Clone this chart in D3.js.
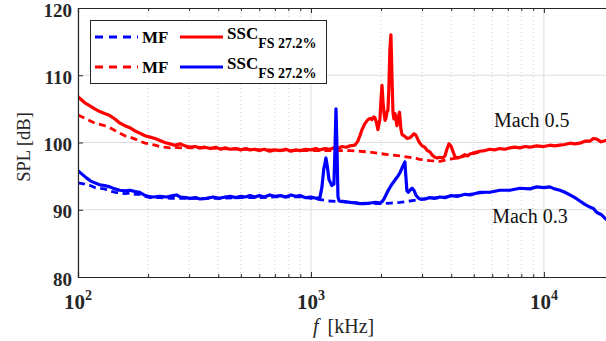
<!DOCTYPE html>
<html>
<head>
<meta charset="utf-8">
<script src="https://cdn.jsdelivr.net/npm/d3@7"></script>
<style>
  html, body { margin: 0; padding: 0; background: #fff; }
  svg { display: block; }
  text { font-family: "Liberation Serif", "Times New Roman", serif; }
</style>
</head>
<body>
<svg id="chart" width="606" height="341"></svg>
<script>
// Spectra: [frequency, SPL dB]
const mfM03 = [
  [100,94.0],[107,93.8],[113,93.6],[118,93.3],[124,93.2],[130,93.1],[137,92.8],[144,92.6],
  [151,92.5],[159,92.4],[167,92.5],[176,92.3],[184,92.3],[194,92.0],[204,91.8],[225,91.8],
  [250,91.7],[300,91.7],[400,91.7],[500,91.8],[600,91.8],[700,91.9],[800,91.9],[900,91.9],
  [1000,91.7],[1093,91.5],[1206,91.3],[1332,91.2],[1471,91.1],[1623,91.0],[1800,90.9],
  [2000,90.9],[2200,91.0],[2410,91.1],[2660,91.3],[2936,91.5],[3241,91.7],[3578,91.8],
  [4000,92.0],[4581,92.2],[5313,92.5],[5864,92.6]
];
const sscM03 = [
  [100,95.8],[104,95.3],[109,94.7],[113,94.3],[118,94.0],[124,93.7],[130,93.6],[137,93.4],
  [144,93.1],[151,92.9],[159,92.8],[167,92.9],[176,92.7],[184,92.6],[192,92.2],[200,92.0],
  [210,91.9],[225,92.0],[240,91.9],[255,92.1],[265,92.2],[274,91.9],[290,91.8],[302,91.7],
  [320,91.8],[334,91.6],[355,91.7],[380,91.9],[405,91.7],[428,91.9],[450,92.0],[475,91.8],
  [500,92.0],[525,91.9],[547,92.1],[575,91.9],[600,92.1],[630,91.9],[665,92.2],[700,92.0],
  [740,92.1],[780,91.9],[820,92.2],[860,92.0],[897,92.1],[950,91.8],[1000,91.9],[1050,91.7],
  [1093,91.8],[1115,93.4],[1135,96.0],[1160,97.7],[1175,96.5],[1195,94.5],[1230,93.6],
  [1255,93.8],[1268,99.0],[1281,105.0],[1294,99.0],[1306,92.0],[1320,91.3],[1332,91.3],
  [1399,91.2],[1471,91.1],[1545,91.0],[1623,90.9],[1705,90.9],[1800,91.0],[1900,91.1],
  [1978,91.0],[2018,91.2],[2058,91.6],[2099,92.2],[2141,92.8],[2183,93.3],[2227,93.8],
  [2271,94.2],[2316,94.6],[2362,95.0],[2410,95.5],[2460,96.2],[2500,96.7],[2532,97.1],
  [2555,95.0],[2582,92.8],[2620,92.6],[2660,92.9],[2720,93.2],[2768,92.9],[2822,92.2],
  [2880,91.8],[2936,91.6],[3085,91.6],[3241,91.8],[3406,91.7],[3578,91.9],[3760,91.8],
  [3990,92.1],[4276,92.0],[4581,92.3],[4813,92.2],[5313,92.6],[5864,92.6],[6474,92.9],
  [7147,92.9],[7889,93.2],[8709,93.1],[9300,93.4],[10000,93.3],[10612,93.4],[11100,93.1],
  [11716,92.9],[12300,92.6],[12931,92.2],[13588,91.8],[14272,91.3],[15000,90.8],
  [15754,90.4],[16300,90.2],[16885,89.6],[17600,89.3],[18458,88.6],[20000,88.0]
];
const mfM05 = [
  [100,104.1],[107,103.6],[113,103.2],[118,102.9],[124,102.7],[130,102.5],[137,102.2],
  [144,101.8],[151,101.4],[159,101.0],[167,100.8],[176,100.5],[184,100.2],[194,99.9],
  [204,99.8],[214,99.6],[225,99.4],[236,99.3],[248,99.2],[260,99.3],[274,99.2],[288,99.3],
  [302,99.2],[350,99.2],[410,99.1],[500,99.0],[600,98.9],[700,98.9],[800,98.8],[897,98.8],
  [1000,98.8],[1093,98.8],[1206,98.8],[1332,98.8],[1471,98.8],[1623,98.7],[1756,98.6],
  [1939,98.4],[2141,98.2],[2410,98.0],[2660,97.8],[2936,97.5],[3241,97.3],[3578,97.2],
  [3912,97.5],[4276,97.7],[4581,98.0],[4813,98.2],[5313,98.6]
];
const sscM05 = [
  [100,106.8],[107,105.9],[113,105.4],[118,105.0],[124,104.6],[130,104.3],[137,104.0],
  [144,103.5],[151,102.9],[159,102.5],[167,102.2],[176,101.7],[184,101.4],[194,101.0],
  [204,100.8],[214,100.6],[225,100.3],[236,100.0],[248,99.8],[260,99.6],[274,99.8],
  [288,99.5],[302,99.3],[318,99.4],[334,99.2],[350,99.3],[370,99.1],[390,99.3],[410,99.0],
  [428,99.2],[450,99.0],[475,99.1],[500,98.9],[525,99.1],[547,98.9],[575,99.0],[600,98.8],
  [630,99.0],[665,98.7],[700,98.9],[740,98.8],[780,99.0],[820,98.7],[860,98.9],[897,98.8],
  [950,99.0],[1000,98.9],[1050,99.1],[1093,98.9],[1150,99.1],[1206,99.0],[1255,99.2],
  [1306,99.1],[1360,99.4],[1420,99.3],[1471,99.5],[1545,99.6],[1590,100.2],[1623,101.0],
  [1656,101.9],[1705,102.8],[1756,103.4],[1800,103.6],[1827,103.4],[1860,103.8],
  [1882,103.7],[1910,103.0],[1939,101.9],[1978,103.5],[2000,106.5],[2018,108.5],
  [2040,106.0],[2058,104.5],[2080,103.3],[2099,103.6],[2120,104.5],[2141,104.8],
  [2160,108.0],[2183,114.0],[2205,116.0],[2227,110.0],[2250,104.5],[2271,103.5],
  [2295,104.3],[2340,102.5],[2362,103.5],[2400,104.5],[2434,102.0],[2460,101.2],
  [2532,100.9],[2582,100.6],[2660,100.7],[2768,101.3],[2822,101.1],[2900,100.2],
  [2936,99.9],[3000,99.5],[3085,99.3],[3160,98.8],[3241,98.6],[3320,98.1],[3406,97.8],
  [3490,97.7],[3578,97.8],[3670,97.7],[3760,98.0],[3835,99.0],[3912,99.8],[3990,99.5],
  [4069,98.7],[4150,97.9],[4276,97.7],[4420,97.9],[4581,98.2],[4700,98.0],[4813,98.3],
  [5050,98.5],[5313,98.7],[5580,98.8],[5864,99.0],[6150,98.9],[6474,99.1],[6800,99.0],
  [7147,99.2],[7500,99.3],[7889,99.2],[8300,99.4],[8709,99.3],[9300,99.5],[10000,99.4],
  [10612,99.6],[11100,99.5],[11716,99.6],[12300,99.7],[12931,99.9],[13588,99.8],
  [14272,99.9],[15000,100.2],[15754,100.2],[16300,100.6],[16885,100.5],[17600,100.1],
  [18458,100.3],[20000,100.0]
];

const yTicks = [80, 90, 100, 110, 120];
const xMajor = [100, 1000, 10000];
const xMinor = [200,300,400,500,600,700,800,900,2000,3000,4000,5000,6000,7000,8000,9000];
const legendItems = [
  { label: "MF", sub: "", color: "#0000ff", dashed: true },
  { label: "SSC", sub: "FS 27.2%", color: "#ff0000", dashed: false },
  { label: "MF", sub: "", color: "#ff0000", dashed: true },
  { label: "SSC", sub: "FS 27.2%", color: "#0000ff", dashed: false }
];
const machLabels = [
  { text: "Mach 0.5", f: 8880, db: 102.3 },
  { text: "Mach 0.3", f: 8710, db: 88.0 }
];

const svg = d3.select("#chart");
const L = 78, T = 8, B = 277, R = 614;
const x = d3.scaleLog().domain([100, 20000]).range([L, R]);
const y = d3.scaleLinear().domain([80, 120]).range([B, T]);
const ink = "#262626";

svg.append("rect").attr("width", 606).attr("height", 341).attr("fill", "#fff");
svg.append("defs").append("clipPath").attr("id", "plotclip")
  .append("rect").attr("x", L).attr("y", T).attr("width", R - L).attr("height", B - T);

// grid
const grid = svg.append("g");
grid.selectAll(".minor").data(xMinor).join("line")
  .attr("x1", d => x(d)).attr("x2", d => x(d)).attr("y1", T).attr("y2", B)
  .attr("stroke", "#c4c4c4").attr("stroke-width", 0.8).attr("stroke-dasharray", "1,3");
grid.selectAll(".major").data(xMajor).join("line")
  .attr("x1", d => x(d)).attr("x2", d => x(d)).attr("y1", T).attr("y2", B)
  .attr("stroke", "#dedede").attr("stroke-width", 1);
grid.selectAll(".hgrid").data(yTicks.slice(1, -1)).join("line")
  .attr("x1", L).attr("x2", R).attr("y1", d => y(d)).attr("y2", d => y(d))
  .attr("stroke", "#dedede").attr("stroke-width", 1);

// curves
const line = d3.line().x(d => x(d[0])).y(d => y(d[1]));
const plot = svg.append("g").attr("clip-path", "url(#plotclip)");
const series = [
  { data: mfM03, color: "#0000ff", dashed: true },
  { data: mfM05, color: "#ff0000", dashed: true },
  { data: sscM05, color: "#ff0000", dashed: false },
  { data: sscM03, color: "#0000ff", dashed: false }
];
series.forEach(s => {
  plot.append("path").datum(s.data).attr("d", line)
    .attr("fill", "none").attr("stroke", s.color)
    .attr("stroke-width", s.dashed ? 2.8 : 3.2)
    .attr("stroke-linejoin", "round")
    .attr("stroke-dasharray", s.dashed ? "7,4.5" : null);
});

// axes
const axG = svg.append("g");
axG.append("g").attr("transform", `translate(0,${B})`)
  .call(d3.axisBottom(x).tickValues(xMajor).tickSize(-5).tickFormat(""));
axG.append("g").attr("transform", `translate(0,${B})`)
  .call(d3.axisBottom(x).tickValues(xMinor).tickSize(-3).tickFormat(""))
  .select(".domain").remove();
axG.append("g").attr("transform", `translate(0,${T})`)
  .call(d3.axisTop(x).tickValues(xMajor).tickSize(-5).tickFormat(""));
axG.append("g").attr("transform", `translate(0,${T})`)
  .call(d3.axisTop(x).tickValues(xMinor).tickSize(-3).tickFormat(""))
  .select(".domain").remove();
axG.append("g").attr("transform", `translate(${L},0)`)
  .call(d3.axisLeft(y).tickValues(yTicks).tickSize(-5).tickFormat(""));
axG.selectAll(".domain").attr("stroke", ink).attr("stroke-width", 1.2);
axG.selectAll(".tick line").attr("stroke", ink).attr("stroke-width", 1);

// y tick labels
svg.append("g").selectAll("text").data(yTicks).join("text")
  .attr("x", L - 6).attr("y", d => y(d) + 8.5)
  .attr("text-anchor", "end").attr("font-weight", "bold")
  .attr("font-size", 19).attr("fill", ink).text(d => d);

// x tick labels (powers of ten)
const xl = svg.append("g").selectAll("text").data(xMajor).join("text")
  .attr("x", d => x(d)).attr("y", 309)
  .attr("text-anchor", "middle").attr("font-weight", "bold")
  .attr("font-size", 21).attr("fill", ink);
xl.append("tspan").text("10");
xl.append("tspan").attr("font-size", 14).attr("dy", -9).text(d => Math.round(Math.log10(d)));

// axis titles
const xt = svg.append("text").attr("x", 313).attr("y", 333)
  .attr("font-size", 20).attr("fill", ink);
xt.append("tspan").attr("font-style", "italic").text("f");
xt.append("tspan").attr("dx", 9).text("[kHz]");
svg.append("text").attr("transform", "translate(30,147) rotate(-90)")
  .attr("text-anchor", "middle").attr("font-size", 18.5).attr("fill", ink)
  .text("SPL [dB]");

// case annotations
svg.append("g").selectAll("text").data(machLabels).join("text")
  .attr("x", d => x(d.f)).attr("y", d => y(d.db))
  .attr("text-anchor", "middle").attr("font-size", 20).attr("fill", "#111")
  .text(d => d.text);

// legend
const lg = svg.append("g");
lg.append("rect").attr("x", 90.5).attr("y", 20.5).attr("width", 236).attr("height", 63)
  .attr("fill", "#fff").attr("stroke", ink).attr("stroke-width", 1);
const colX = [95, 180];
const rowY = [37, 67];
legendItems.forEach((it, i) => {
  const cx = colX[i % 2], cy = rowY[Math.floor(i / 2)];
  lg.append("line").attr("x1", cx).attr("x2", cx + 43).attr("y1", cy).attr("y2", cy)
    .attr("stroke", it.color).attr("stroke-width", 2.8)
    .attr("stroke-dasharray", it.dashed ? "8,6" : null);
  const t = lg.append("text").attr("x", cx + 47).attr("font-weight", "bold")
    .attr("font-size", 17).attr("fill", "#000");
  if (it.sub) {
    t.attr("y", cy + 2);
    t.append("tspan").text(it.label);
    t.append("tspan").attr("font-size", 14).attr("dy", 9).text(it.sub);
  } else {
    t.attr("y", cy + 6).text(it.label);
  }
});
</script>
</body>
</html>
